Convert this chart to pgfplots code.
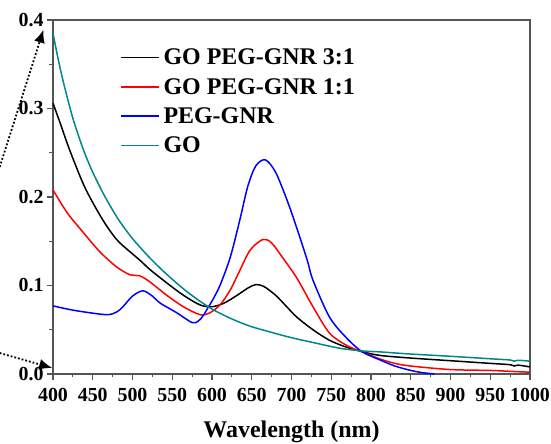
\documentclass[border=0pt]{standalone}
\usepackage{fontspec}
\setmainfont{Liberation Serif}
\usepackage{pgfplots}
\pgfplotsset{compat=1.18}
\usetikzlibrary{arrows.meta,calc}
\definecolor{axisgray}{RGB}{85,85,85}
\definecolor{goteal}{RGB}{0,135,135}
\pgfplotsset{legend image code/.code={\draw[#1] (0bp,0bp) -- (38bp,0bp);}}
\begin{document}
\begin{tikzpicture}
\begin{axis}[
  scale only axis,
  width=477bp, height=354bp,
  xmin=400, xmax=1000, ymin=0, ymax=0.4,
  xtick={400,450,...,1000},
  ytick={0,0.1,0.2,0.3,0.4},
  minor x tick num=1, minor y tick num=1,
  tick align=outside,
  xtick pos=bottom, ytick pos=left,
  major tick length=6bp, minor tick length=3.5bp,
  every tick/.style={axisgray, line width=1.2bp},
  axis line style={axisgray, line width=1.4bp},
  /pgf/number format/assume math mode=true,
  yticklabel style={/pgf/number format/fixed, /pgf/number format/fixed zerofill,
    /pgf/number format/precision=1},
  xticklabel style={/pgf/number format/set thousands separator={}, yshift=-5bp},
  tick label style={font=\bfseries\fontsize{20}{20}\selectfont, black},
  xlabel={Wavelength (nm)},
  xlabel style={font=\bfseries\fontsize{24}{24}\selectfont, at={(axis description cs:0.5,0)}, anchor=center, yshift=-58bp},
  legend cell align=left,
  legend style={draw=none, fill=none, at={(axis description cs:0.135,0.93)}, anchor=north west,
    font=\bfseries\fontsize{24}{24}\selectfont, row sep=8bp,
    nodes={inner xsep=3.5bp}},
  clip=false,
]
\addplot[black, line width=1.5bp, smooth] coordinates {
(400,0.306)(410,0.281)(421,0.253)(440,0.211)(462,0.175)(480,0.152)(497,0.138)
(510,0.128)(522,0.118)(543,0.103)(564,0.089)(585,0.078)(600,0.076)(615,0.080)
(630,0.088)(645,0.097)(655,0.101)(665,0.099)(680,0.089)(695,0.075)(707,0.064)
(727,0.050)(748,0.038)(770,0.030)(790,0.025)(811,0.021)(850,0.018)(900,0.015)
(950,0.012)(975,0.0105)(980,0.009)(985,0.010)(1000,0.008)};
\addlegendentry{GO PEG-GNR 3:1}
\addplot[red, line width=1.5bp, smooth] coordinates {
(400,0.208)(418,0.182)(438,0.160)(459,0.138)(480,0.121)(497,0.112)(509,0.111)
(522,0.104)(543,0.089)(564,0.076)(585,0.067)(597,0.069)(610,0.078)(623,0.095)
(635,0.117)(648,0.140)(664,0.152)(675,0.148)(690,0.130)(707,0.108)(727,0.076)
(748,0.046)(770,0.032)(789,0.025)(811,0.017)(830,0.012)(850,0.009)(900,0.005)
(950,0.004)(975,0.003)(1000,0.002)};
\addlegendentry{GO PEG-GNR 1:1}
\addplot[blue, line width=1.5bp, smooth] coordinates {
(400,0.077)(420,0.073)(440,0.070)(468,0.067)(480,0.070)(488,0.076)(500,0.088)
(513,0.094)(525,0.088)(535,0.080)(556,0.069)(575,0.058)(583,0.060)(589,0.066)
(595,0.075)(601,0.084)(610,0.100)(623,0.132)(635,0.174)(645,0.212)(655,0.235)
(667,0.242)(680,0.228)(695,0.195)(707,0.164)(720,0.128)(727,0.106)(748,0.064)
(770,0.040)(789,0.025)(811,0.016)(830,0.009)(850,0.004)(865,0.0015)(880,0.0)};
\addlegendentry{PEG-GNR}
\addplot[goteal, line width=1.5bp, smooth] coordinates {
(400,0.385)(406,0.358)(413,0.330)(425,0.289)(438,0.254)(450,0.228)(465,0.201)
(482,0.175)(500,0.153)(522,0.131)(545,0.111)(570,0.092)(597,0.075)(623,0.063)
(648,0.054)(675,0.047)(700,0.041)(730,0.035)(761,0.029)(790,0.026)(811,0.025)
(849,0.0226)(900,0.020)(950,0.0172)(975,0.0158)(980,0.0145)(985,0.0155)(1000,0.0145)};
\addlegendentry{GO}
\draw[black, line width=1.8bp, dotted, -{Latex[length=13bp,width=11bp]}]
  (axis cs:333,0.234) -- (axis cs:388,0.389);
\draw[black, line width=1.8bp, dotted, -{Latex[length=13bp,width=11bp]}]
  (axis cs:333,0.0237) -- (axis cs:399,0.0068);
\coordinate (sw) at (rel axis cs:0,0);
\coordinate (ne) at (rel axis cs:1,1);
\end{axis}
\pgfresetboundingbox
\useasboundingbox ($(sw)+(-53bp,-70bp)$) rectangle ($(ne)+(21bp,20bp)$);
\end{tikzpicture}
\end{document}
